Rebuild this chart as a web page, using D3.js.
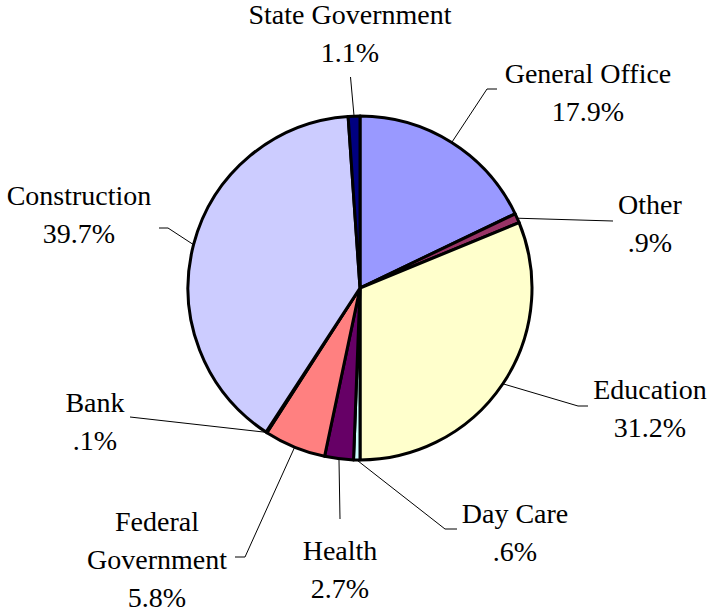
<!DOCTYPE html>
<html>
<head>
<meta charset="utf-8">
<script src="https://cdn.jsdelivr.net/npm/d3@7"></script>
<style>
  body { margin: 0; background: #fff; }
</style>
</head>
<body>
<div id="chart"></div>
<script>
var categories = ["General Office", "Other", "Education", "Day Care", "Health",
                  "Federal Government", "Bank", "Construction", "State Government"];
var values = [17.9, 0.9, 31.2, 0.6, 2.7, 5.8, 0.1, 39.7, 1.1];
var valueLabels = ["17.9%", ".9%", "31.2%", ".6%", "2.7%", "5.8%", ".1%", "39.7%", "1.1%"];
var colors = ["#9999FF", "#993366", "#FFFFCC", "#CCFFFF", "#660066",
              "#FF8080", "#0066CC", "#CCCCFF", "#000080"];

// label placement (name lines, centre x, first baseline, leader bends)
var labelLayout = [
  { lines: ["General Office"], x: 588, y: 83, leader: [[487, 89], [497, 89]] },
  { lines: ["Other"], x: 650, y: 214, leader: [[613, 221]] },
  { lines: ["Education"], x: 650, y: 399, leader: [[578, 406], [588, 406]] },
  { lines: ["Day Care"], x: 515, y: 523, leader: [[445, 529], [457, 529]] },
  { lines: ["Health"], x: 340, y: 560, leader: [[340, 519]] },
  { lines: ["Federal", "Government"], x: 157, y: 531, leader: [[245, 557], [235, 557]] },
  { lines: ["Bank"], x: 95, y: 412, leader: [[130, 417]] },
  { lines: ["Construction"], x: 79, y: 205, leader: [[168, 228], [159, 228]] },
  { lines: ["State Government"], x: 350, y: 24, leader: [[350.5, 77]] }
];

var width = 711, height = 612;
var cx = 360, cy = 288, radius = 172, lineGap = 38;

var svg = d3.select("#chart").append("svg")
    .attr("width", width)
    .attr("height", height);

var pie = d3.pie().sort(null).value(function(d) { return d; });
var arcs = pie(values);
var arc = d3.arc().innerRadius(0).outerRadius(radius);

var g = svg.append("g").attr("transform", "translate(" + cx + "," + cy + ")");

g.selectAll("path.slice")
  .data(arcs)
  .enter()
  .append("path")
  .attr("class", "slice")
  .attr("d", arc)
  .style("fill", function(d, i) { return colors[i]; })
  .style("stroke", "#000")
  .style("stroke-width", 3)
  .style("stroke-linejoin", "round");

// leader lines start on the rim at the slice's mid angle
var line = d3.line();
svg.selectAll("path.leader")
  .data(arcs)
  .enter()
  .append("path")
  .attr("class", "leader")
  .attr("d", function(d, i) {
    var a = (d.startAngle + d.endAngle) / 2;
    var start = [cx + radius * Math.sin(a), cy - radius * Math.cos(a)];
    return line([start].concat(labelLayout[i].leader));
  })
  .style("fill", "none")
  .style("stroke", "#000")
  .style("stroke-width", 1);

labelLayout.forEach(function(lay, i) {
  var rows = lay.lines.concat([valueLabels[i]]);
  rows.forEach(function(r, k) {
    svg.append("text")
      .attr("x", lay.x)
      .attr("y", lay.y + k * lineGap)
      .attr("text-anchor", "middle")
      .attr("font-family", "Liberation Serif")
      .attr("font-size", 28)
      .attr("fill", "#000")
      .text(r);
  });
});
</script>
</body>
</html>
